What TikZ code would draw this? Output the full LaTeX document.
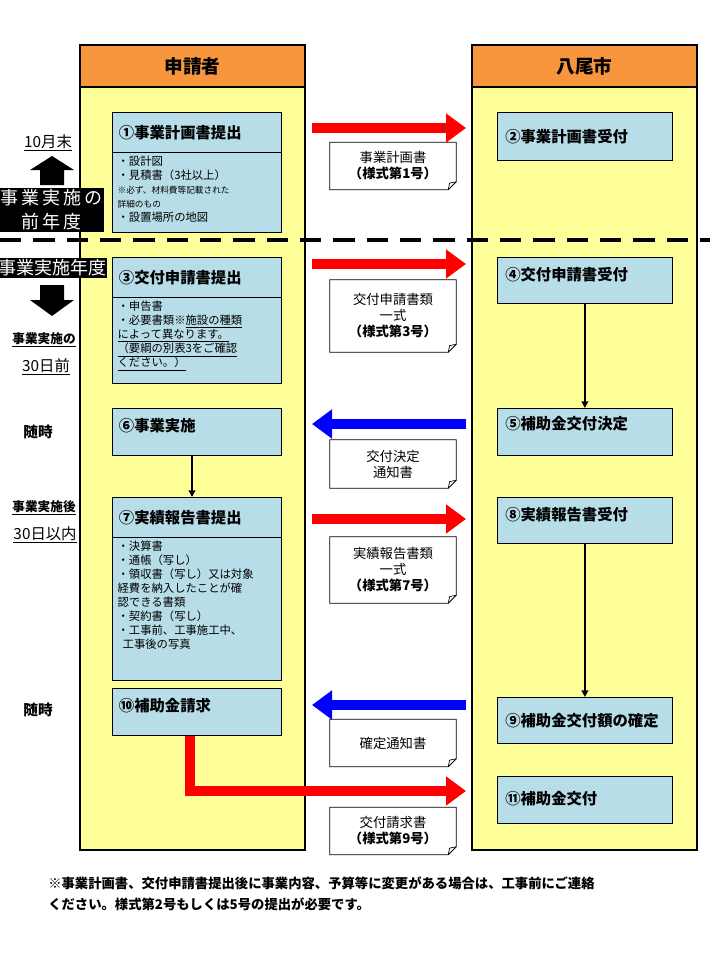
\documentclass[tikz,border=0pt]{standalone}
\usepackage{fontspec}
\setmainfont{Noto Sans CJK JP}
\usetikzlibrary{arrows.meta}
\definecolor{boxblue}{RGB}{183,221,232}
\definecolor{colyellow}{RGB}{255,255,153}
\definecolor{headorange}{RGB}{247,150,60}
\tikzset{
 col/.style={draw, fill=colyellow, line width=0.8pt},
 head/.style={draw, fill=headorange, line width=0.8pt, font=\bfseries\fontsize{14}{16}\selectfont},
 box/.style={draw, fill=boxblue, line width=0.6pt, inner sep=0pt, anchor=north west},
 ttl/.style={anchor=west, font=\bfseries\fontsize{11.5}{13}\selectfont, inner sep=0pt},
 body/.style={anchor=north west, align=left, font=\fontsize{8.5}{10.5}\selectfont, inner sep=0pt},
 note/.style={font=\fontsize{10}{12}\selectfont, align=center, inner sep=0pt, minimum width=94.5pt},
 bigred/.style={draw=red, line width=7pt, -{Triangle[length=15pt,width=21pt]}},
 bigblue/.style={draw=blue, line width=7pt, -{Triangle[length=15pt,width=21pt]}},
 thin/.style={line width=1.3pt, -{Triangle[length=5pt,width=5pt]}},
 blk/.style={fill=black, text=white, inner sep=1pt, font=\fontsize{13.5}{18}\selectfont, align=center},
 lbl/.style={font=\bfseries\fontsize{9.5}{11}\selectfont, inner sep=0pt},
 lblb/.style={font=\fontsize{11.5}{13}\selectfont, inner sep=0pt},
}
\begin{document}
\begin{tikzpicture}[x=0.75pt,y=-0.75pt]
\useasboundingbox (0,0) rectangle (720,960);
\fill[white] (0,0) rectangle (720,960);
\begin{scope}
\clip (0,0) rectangle (720,960);
% columns
\draw[col] (80,45) rectangle (305,850);
\draw[col] (472,45) rectangle (697,850);
\draw[head] (80,45) rectangle node{申請者} (305,87);
\draw[head] (472,45) rectangle node{八尾市} (697,87);
% dashed divider
\draw[line width=3pt, dash pattern=on 16pt off 9pt] (0,240) -- (710,240);
% left boxes
\node[box, minimum width=126.75pt, minimum height=30pt] (b1) at (112,112) {};
\node[ttl] at ([xshift=5pt]b1.west) {①事業計画書提出};
\node[box, minimum width=126.75pt, minimum height=60pt] (b1b) at (112,152) {};
\node[body] at ([xshift=4pt,yshift=-3pt]b1b.north west) {・設計図\\・見積書（3社以上）\\{\fontsize{6.5}{9}\selectfont ※必ず、材料費等記載された}\\{\fontsize{6.5}{9}\selectfont 詳細のもの}\\・設置場所の地図};

\node[box, minimum width=126.75pt, minimum height=30pt] (b3) at (112,257) {};
\node[ttl] at ([xshift=5pt]b3.west) {③交付申請書提出};
\node[box, minimum width=126.75pt, minimum height=64.5pt] (b3b) at (112,297) {};
\node[body] at ([xshift=4pt,yshift=-3pt]b3b.north west) {・申告書\\・必要書類※\underline{施設の種類}\\\underline{によって異なります。}\\\underline{（要綱の別表3をご確認}\\\underline{ください。）}};

\node[box, minimum width=126.75pt, minimum height=35.25pt] (b6) at (112,408) {};
\node[ttl] at ([xshift=5pt,yshift=5pt]b6.west) {⑥事業実施};

\node[box, minimum width=126.75pt, minimum height=30pt] (b7) at (112,497) {};
\node[ttl] at ([xshift=5pt]b7.west) {⑦実績報告書提出};
\node[box, minimum width=126.75pt, minimum height=107pt] (b7b) at (112,537) {};
\node[body] at ([xshift=4pt,yshift=-3pt]b7b.north west) {・決算書\\・通帳（写し）\\・領収書（写し）又は対象\\経費を納入したことが確\\認できる書類\\・契約書（写し）\\・工事前、工事施工中、\\\ \ 工事後の写真};

\node[box, minimum width=126.75pt, minimum height=35.25pt] (b10) at (112,688) {};
\node[ttl] at ([xshift=5pt,yshift=5pt]b10.west) {⑩補助金請求};

% right boxes
\node[box, minimum width=131.25pt, minimum height=36pt] (b2) at (497,112) {};
\node[ttl] at ([xshift=6pt]b2.west) {②事業計画書受付};
\node[box, minimum width=131.25pt, minimum height=34.5pt] (b4) at (497,257) {};
\node[ttl] at ([xshift=6pt,yshift=4pt]b4.west) {④交付申請書受付};
\node[box, minimum width=131.25pt, minimum height=35.25pt] (b5) at (497,408) {};
\node[ttl] at ([xshift=6pt,yshift=6pt]b5.west) {⑤補助金交付決定};
\node[box, minimum width=131.25pt, minimum height=34.5pt] (b8) at (497,497) {};
\node[ttl] at ([xshift=6pt,yshift=4pt]b8.west) {⑧実績報告書受付};
\node[box, minimum width=131.25pt, minimum height=34.5pt] (b9) at (497,697) {};
\node[ttl] at ([xshift=6pt]b9.west) {⑨補助金交付額の確定};
\node[box, minimum width=131.25pt, minimum height=35.25pt] (b11) at (497,776) {};
\node[ttl] at ([xshift=6pt,yshift=1pt]b11.west) {⑪補助金交付};

% notes
\foreach \n/\y/\h/\t in {n1/166/35.25/{事業計画書\\\textbf{（様式第1号）}},
  n2/316/54/{交付申請書類\\一式\\\textbf{（様式第3号）}},
  n3/464/36/{交付決定\\通知書},
  n4/570/49.5/{実績報告書類\\一式\\\textbf{（様式第7号）}},
  n5/743/35.25/{確定通知書},
  n6/831/35.25/{交付請求書\\\textbf{（様式第9号）}}}{
  \node[note, minimum height=\h pt] (\n) at (393,\y) {\t};
  \draw[line width=0.6pt] (\n.north west) -- (\n.north east) -- ([yshift=6pt]\n.south east) -- ([xshift=-6pt]\n.south east) -- (\n.south west) -- cycle;
  \draw[line width=0.5pt] ([yshift=6pt]\n.south east) -- ([xshift=-5pt,yshift=5pt]\n.south east) -- ([xshift=-6pt]\n.south east);
}

% big arrows
\coordinate (r1s) at (312,128); \coordinate (r1e) at (466,128);
\draw[bigred] (r1s) -- (r1e);
\coordinate (r2s) at (312,264); \coordinate (r2e) at (466,264);
\draw[bigred] (r2s) -- (r2e);
\coordinate (r3s) at (312,519); \coordinate (r3e) at (466,519);
\draw[bigred] (r3s) -- (r3e);
\coordinate (u1s) at (466,424); \coordinate (u1e) at (312,424);
\draw[bigblue] (u1s) -- (u1e);
\coordinate (u2s) at (466,705); \coordinate (u2e) at (312,705);
\draw[bigblue] (u2s) -- (u2e);
\coordinate (r4e) at (466,791);
\draw[bigred] ([xshift=58.5pt]b10.south west) |- (r4e);

% thin arrows
\draw[thin] (b4.south) -- (b5.north);
\draw[thin] ([xshift=60pt]b6.south west) -- ([xshift=60pt]b7.north west);
\draw[thin] (b8.south) -- (b9.north);

% left timeline
\node[lblb] (t1) at (48,143) {\underline{10月末}};
\node[blk] (k1) at (52,210) {事\,業\,実\,施\,の\\前\,年\,度};
\fill (40,185) -- (40,170) -- (30,170) -- (52,156) -- (74,170) -- (64,170) -- (64,185) -- cycle;
\node[blk] (k2) at (52,268) {事業実施年度};
\fill (40,285) -- (40,300) -- (30,300) -- (52,316) -- (74,300) -- (64,300) -- (64,285) -- cycle;
\node[lbl] (t2) at (44,340) {\underline{事業実施の}};
\node[lblb] (t3) at (46,367) {\underline{30日前}};
\node[lbl, font=\bfseries\fontsize{11}{13}\selectfont] (t4) at (38,432) {随時};
\node[lbl] (t5) at (44,508) {\underline{事業実施後}};
\node[lblb] (t6) at (45,535) {\underline{30日以内}};
\node[lbl, font=\bfseries\fontsize{11}{13}\selectfont] (t7) at (38,710) {随時};

% footnote
\node[anchor=north west, align=left, font=\bfseries\fontsize{10}{15.5}\selectfont, inner sep=0pt] (fn) at (48,877) {※事業計画書、交付申請書提出後に事業内容、予算等に変更がある場合は、工事前にご連絡\\ください。様式第2号もしくは5号の提出が必要です。};
\end{scope}
\end{tikzpicture}
\end{document}
